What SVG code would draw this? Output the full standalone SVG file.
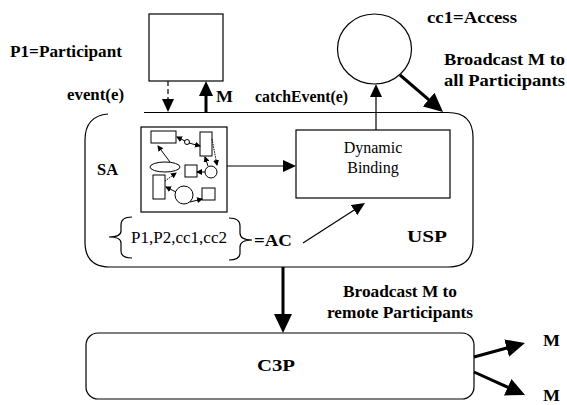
<svg xmlns="http://www.w3.org/2000/svg" width="567" height="405" viewBox="0 0 567 405">
  <style>
    .ln { fill: none; stroke: #000; stroke-width: 1.2; }
    .bold { fill: none; stroke: #000; stroke-width: 3; }
    .lbl { font-family: "Liberation Serif", "Times New Roman", serif; font-weight: bold; font-size: 16px; fill: #000; }
    .reg { font-family: "Liberation Serif", "Times New Roman", serif; font-size: 16px; fill: #000; }
    .tiny { fill: none; stroke: #000; stroke-width: 1; }
  </style>
  <defs>
    <marker id="ah" markerUnits="userSpaceOnUse" markerWidth="13" markerHeight="12" refX="9" refY="6" orient="auto">
      <path d="M0,0 L13,6 L0,12 z" fill="#000"/>
    </marker>
    <marker id="ahm" markerUnits="userSpaceOnUse" markerWidth="15" markerHeight="14" refX="11" refY="7" orient="auto">
      <path d="M0,0 L15,7 L0,14 z" fill="#000"/>
    </marker>
    <marker id="ahl" markerUnits="userSpaceOnUse" markerWidth="19" markerHeight="18" refX="15" refY="9" orient="auto">
      <path d="M0,0 L19,9 L0,18 z" fill="#000"/>
    </marker>
    <marker id="ahs" markerUnits="userSpaceOnUse" markerWidth="6" markerHeight="6" refX="5" refY="3" orient="auto">
      <path d="M0,0 L6,3 L0,6 z" fill="#000"/>
    </marker>
  </defs>
  <rect width="567" height="405" fill="#fff"/>

  <!-- participant P1 -->
  <g id="p1">
    <rect x="149" y="14" width="74" height="67" class="ln"/>
    <text class="lbl" x="10" y="57" textLength="112" lengthAdjust="spacingAndGlyphs">P1=Participant</text>
  </g>

  <!-- access component cc1 -->
  <g id="cc1">
    <ellipse cx="374.5" cy="49" rx="37" ry="35" class="ln"/>
    <text class="lbl" x="427" y="23" textLength="90" lengthAdjust="spacingAndGlyphs">cc1=Access</text>
  </g>

  <!-- USP container -->
  <g id="usp">
    <path class="ln" d="M144,112.5 L448,112.5 Q473,112.5 473,137.5 L473,242 Q473,267 448,267 L110,267 Q85,267 85,242 L85,140 Q85,116 108,114"/>
    <text class="lbl" x="407" y="242" font-size="20" textLength="40" lengthAdjust="spacingAndGlyphs">USP</text>
  </g>

  <!-- SA: service assembly sketch -->
  <g id="sa">
    <text class="lbl" x="97" y="175" textLength="21" lengthAdjust="spacingAndGlyphs">SA</text>
    <rect x="141" y="127" width="86" height="85" class="ln"/>
    <rect x="151" y="131" width="25" height="12" class="tiny"/>
    <circle cx="187" cy="142" r="2.5" class="tiny"/>
    <rect x="200" y="132" width="12" height="24" class="tiny"/>
    <ellipse cx="165" cy="167" rx="15" ry="5" class="tiny"/>
    <rect x="185" y="165" width="12" height="12" class="tiny"/>
    <circle cx="211" cy="172" r="6" class="tiny"/>
    <rect x="153" y="175" width="12" height="24" class="tiny"/>
    <circle cx="184" cy="195" r="9" class="tiny"/>
    <rect x="202" y="188" width="13" height="12" class="tiny"/>
    <line x1="185" y1="141" x2="177" y2="137" class="tiny" marker-end="url(#ahs)"/>
    <line x1="189" y1="143" x2="200" y2="146" class="tiny" marker-end="url(#ahs)"/>
    <line x1="170" y1="162" x2="158" y2="146" class="tiny" marker-end="url(#ahs)"/>
    <line x1="212" y1="139" x2="217" y2="165" class="tiny" stroke-width="0.6" stroke-dasharray="1.5,1" marker-end="url(#ahs)"/>
    <line x1="208" y1="166" x2="205" y2="157" class="tiny" marker-end="url(#ahs)"/>
    <line x1="205" y1="172" x2="197" y2="172" class="tiny" marker-end="url(#ahs)"/>
    <line x1="165" y1="181" x2="176" y2="173" class="tiny" stroke-width="0.6" stroke-dasharray="1.5,1" marker-end="url(#ahs)"/>
    <line x1="176" y1="192" x2="166" y2="187" class="tiny" marker-end="url(#ahs)"/>
    <line x1="190" y1="202" x2="202" y2="199" class="tiny" marker-end="url(#ahs)"/>
  </g>

  <!-- Dynamic Binding -->
  <g id="dynamic-binding">
    <rect x="296" y="130" width="154" height="68" class="ln"/>
    <text class="reg" x="373" y="153" text-anchor="middle" font-size="16.5">Dynamic</text>
    <text class="reg" x="373" y="173" text-anchor="middle" font-size="16.5">Binding</text>
  </g>

  <!-- access control set AC -->
  <g id="ac">
    <path class="ln" d="M132,217 Q121,217 121,225 L121,231 Q121,237 109,237 Q121,237 121,243 L121,251 Q121,258 132,258"/>
    <text class="reg" x="131" y="243" font-size="17.5" textLength="96" lengthAdjust="spacingAndGlyphs">P1,P2,cc1,cc2</text>
    <path class="ln" d="M229,218 Q240,218 240,226 L240,233 Q240,240 252,240 Q240,240 240,247 L240,253 Q240,260 229,260"/>
    <text class="lbl" x="254" y="246" font-size="17.5" textLength="38" lengthAdjust="spacingAndGlyphs">=AC</text>
  </g>

  <!-- C3P -->
  <g id="c3p">
    <rect x="86" y="333" width="388" height="66" rx="12" class="ln"/>
    <text class="lbl" x="257" y="371" font-size="21" textLength="38" lengthAdjust="spacingAndGlyphs">C3P</text>
  </g>

  <!-- connectors and their labels -->
  <g id="connectors">
    <line x1="168" y1="81" x2="168" y2="108" class="ln" stroke-dasharray="5,3" marker-end="url(#ah)"/>
    <line x1="206" y1="112" x2="206" y2="85" class="bold" marker-end="url(#ahm)"/>
    <line x1="376" y1="130" x2="376" y2="88" class="ln" marker-end="url(#ah)"/>
    <line x1="400" y1="75" x2="440" y2="109.4" class="bold" marker-end="url(#ahl)"/>
    <line x1="227" y1="166" x2="292" y2="166" class="ln" marker-end="url(#ah)"/>
    <line x1="303" y1="243" x2="361.6" y2="205.2" class="ln" marker-end="url(#ah)"/>
    <line x1="283" y1="267" x2="283" y2="329" class="bold" marker-end="url(#ahl)"/>
    <line x1="474" y1="357" x2="521.1" y2="344.1" class="bold" stroke-width="2.5" marker-end="url(#ahl)"/>
    <line x1="474" y1="372" x2="521.4" y2="393.4" class="bold" stroke-width="2.5" marker-end="url(#ahl)"/>

    <text class="lbl" x="67" y="100" textLength="57" lengthAdjust="spacingAndGlyphs">event(e)</text>
    <text class="lbl" x="216" y="102" textLength="17" lengthAdjust="spacingAndGlyphs">M</text>
    <text class="lbl" x="255" y="102" textLength="93" lengthAdjust="spacingAndGlyphs">catchEvent(e)</text>
    <text class="lbl" x="444" y="65" textLength="121" lengthAdjust="spacingAndGlyphs">Broadcast M to</text>
    <text class="lbl" x="444" y="86" textLength="121" lengthAdjust="spacingAndGlyphs">all Participants</text>
    <text class="lbl" x="343" y="297" font-size="17" textLength="114" lengthAdjust="spacingAndGlyphs">Broadcast M to</text>
    <text class="lbl" x="327" y="318" font-size="17" textLength="146" lengthAdjust="spacingAndGlyphs">remote Participants</text>
    <text class="lbl" x="543" y="346" textLength="17" lengthAdjust="spacingAndGlyphs">M</text>
    <text class="lbl" x="543" y="401" textLength="17" lengthAdjust="spacingAndGlyphs">M</text>
  </g>
</svg>
